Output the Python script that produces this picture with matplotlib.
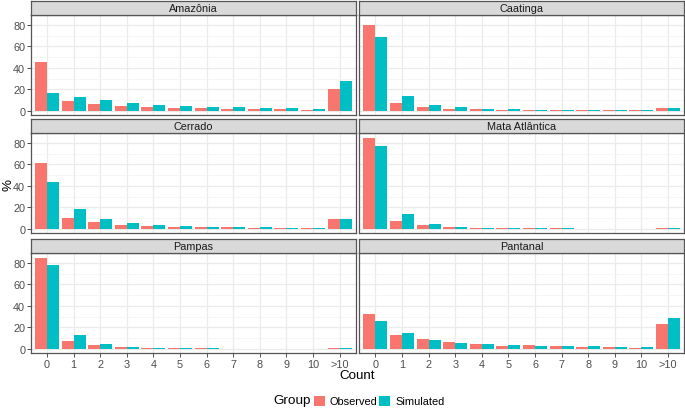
import numpy as np
import matplotlib
matplotlib.use("Agg")
import matplotlib.pyplot as plt
from matplotlib.patches import Rectangle

plt.rcParams["font.family"] = ["Liberation Sans", "DejaVu Sans"]

# ------------------------------
# Data
# ------------------------------
counts = ["0", "1", "2", "3", "4", "5", "6", "7", "8", "9", "10", ">10"]
biomes = ["Amazônia", "Caatinga", "Cerrado", "Mata Atlântica", "Pampas", "Pantanal"]

amazonia_obs = [45.6, 9.4, 6.3, 4.0, 3.1, 2.5, 2.2, 1.6, 1.6, 1.25, 0.9, 20.3]
amazonia_sim = [16.6, 13.1, 9.7, 7.2, 5.6, 4.4, 3.75, 3.1, 2.5, 2.5, 1.9, 27.5]
caatinga_obs = [80.3, 6.9, 3.4, 1.9, 1.2, 0.9, 0.6, 0.5, 0.4, 0.3, 0.3, 2.5]
caatinga_sim = [68.8, 13.8, 5.3, 3.1, 1.9, 1.2, 0.9, 0.6, 0.5, 0.4, 0.3, 2.2]
cerrado_obs = [61.0, 10.3, 6.2, 3.4, 2.5, 1.9, 1.6, 1.2, 0.9, 0.8, 0.6, 8.7]
cerrado_sim = [43.6, 18.7, 9.3, 5.6, 3.4, 2.5, 1.9, 1.6, 1.2, 0.9, 0.6, 9.0]
mata_obs = [84.7, 6.9, 3.1, 1.6, 0.9, 0.6, 0.4, 0.3, 0.2, 0.2, 0.1, 0.6]
mata_sim = [77.3, 13.7, 4.4, 1.9, 0.9, 0.6, 0.4, 0.3, 0.2, 0.2, 0.1, 0.4]
pampas_obs = [85.0, 6.9, 3.1, 1.6, 0.6, 0.3, 0.3, 0.2, 0.2, 0.1, 0.1, 0.6]
pampas_sim = [78.4, 12.8, 4.4, 1.6, 0.6, 0.3, 0.3, 0.2, 0.2, 0.1, 0.1, 0.4]
pantanal_obs = [32.5, 12.8, 9.4, 6.25, 4.4, 2.8, 3.4, 2.5, 1.9, 1.9, 0.9, 23.4]
pantanal_sim = [25.9, 14.4, 8.1, 5.3, 4.4, 3.4, 2.8, 2.5, 2.2, 1.9, 1.9, 29.1]

observed = [amazonia_obs, caatinga_obs, cerrado_obs, mata_obs, pampas_obs, pantanal_obs]
simulated = [amazonia_sim, caatinga_sim, cerrado_sim, mata_sim, pampas_sim, pantanal_sim]

group_names = ["Observed", "Simulated"]
group_colors = ["#F8766D", "#00BFC4"]

# ------------------------------
# Layout (pixel boxes -> figure fractions)
# ------------------------------
W, H = 685, 410
fig = plt.figure(figsize=(W / 100, H / 100), dpi=100)

col_x = [31, 359.5]
col_w = 324.5
row_strip_top = [1.5, 119.5, 239.5]
strip_h = 14.5
panel_h = 100.3

ymax_all = max(max(v) for v in observed + simulated)
ylo, yhi = -0.05 * ymax_all, 1.05 * ymax_all
x = np.arange(len(counts))

for i, name in enumerate(biomes):
    r, c = divmod(i, 2)
    x0 = col_x[c]
    st = row_strip_top[r]
    pt = st + strip_h

    ax = fig.add_axes([x0 / W, 1 - (pt + panel_h) / H, col_w / W, panel_h / H])
    ax.bar(x - 0.225, observed[i], width=0.45, color=group_colors[0], zorder=3)
    ax.bar(x + 0.225, simulated[i], width=0.45, color=group_colors[1], zorder=3)

    ax.set_xlim(-0.6, len(counts) - 0.4)
    ax.set_ylim(ylo, yhi)
    ax.set_xticks(x)
    ax.set_yticks([0, 20, 40, 60, 80])
    ax.set_yticks([10, 30, 50, 70], minor=True)
    ax.grid(True, which="major", color="#EBEBEB", linewidth=0.9, zorder=0)
    ax.grid(True, which="minor", axis="y", color="#F3F3F3", linewidth=0.5, zorder=0)
    ax.set_axisbelow(True)

    for s in ax.spines.values():
        s.set_color("#555555")
        s.set_linewidth(0.9)

    ax.tick_params(which="major", length=2.7, width=0.6, color="#333333",
                   labelsize=7.8, labelcolor="#4D4D4D", pad=1.5)
    ax.tick_params(which="minor", length=0)

    if c == 0:
        ax.set_yticklabels(["0", "20", "40", "60", "80"])
    else:
        ax.tick_params(axis="y", which="major", length=0)
        ax.set_yticklabels([])
    if r == 2:
        ax.set_xticklabels(counts)
    else:
        ax.tick_params(axis="x", length=0)
        ax.set_xticklabels([])

    # facet strip
    sax = fig.add_axes([x0 / W, 1 - pt / H, col_w / W, strip_h / H])
    sax.set_facecolor("#D9D9D9")
    sax.set_xticks([])
    sax.set_yticks([])
    for s in sax.spines.values():
        s.set_color("#555555")
        s.set_linewidth(0.9)
    sax.text(0.5, 0.5, name, ha="center", va="center", fontsize=7.8,
             color="#1A1A1A", transform=sax.transAxes)

# axis titles
fig.text(8 / W, 1 - 185 / H, "%", rotation=90, ha="center", va="center", fontsize=9.6)
fig.text(357 / W, 1 - 376 / H, "Count", ha="center", va="center", fontsize=9.6)

# legend
key_w, key_h = 11, 10
fig.text(273 / W, 1 - 401.5 / H, "Group", ha="left", va="center", fontsize=9.7)
for lab, col, kx, tx in zip(group_names, group_colors, [314, 379], [329, 395]):
    fig.patches.append(Rectangle((kx / W, 1 - 407 / H), key_w / W, key_h / H,
                                 facecolor=col, edgecolor="none",
                                 transform=fig.transFigure))
    fig.text(tx / W, 1 - 402 / H, lab, ha="left", va="center", fontsize=7.9)

fig.savefig("out.png", dpi=100)
